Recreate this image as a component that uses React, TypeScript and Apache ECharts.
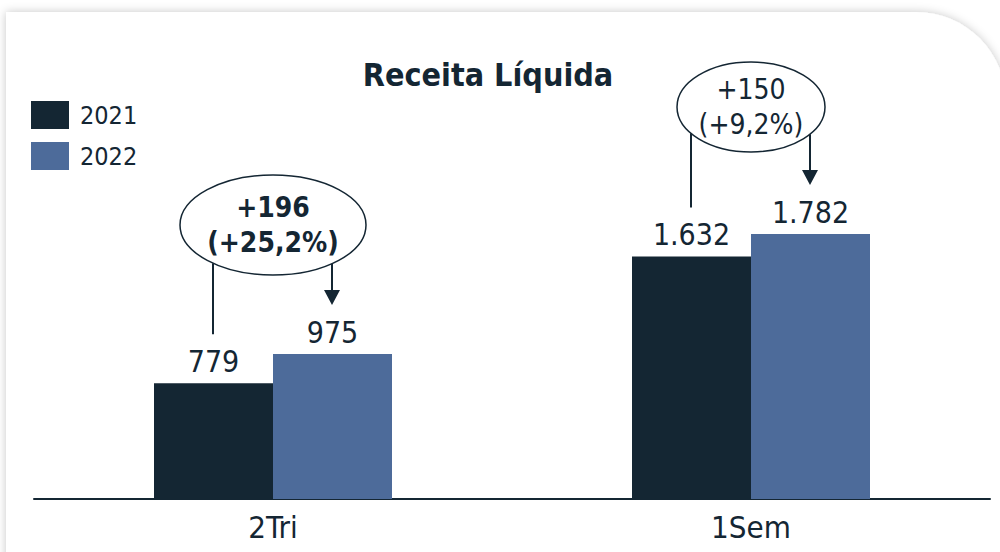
import React, { useEffect, useRef } from "react";
import * as echarts from "echarts";

const categories = ["2Tri", "1Sem"];
const seriesNames = ["2021", "2022"];
const values2021 = [779, 1632];
const values2022 = [975, 1782];
const deltaText = ["+196", "+150"];
const pctText = ["(+25,2%)", "(+9,2%)"];
const deltaBold = [true, false];
const title = "Receita Líquida";

const DARK = "#142633";
const BLUE = "#4D6B9A";
const FONT = "'DejaVu Sans Condensed', sans-serif";

const fmt = (v: number) => v.toLocaleString("de-DE");

export default function App() {
  const ref = useRef<HTMLDivElement>(null);
  useEffect(() => {
    document.body.style.margin = "0";
    const chart = echarts.init(ref.current!, null, { renderer: "svg" });
    const barWidth = 119;
    const labelOpt = {
      show: true,
      position: "top",
      distance: 7,
      color: DARK,
      fontFamily: FONT,
      fontSize: 30,
      formatter: (p: any) => fmt(p.value),
    };
    chart.setOption({
      animation: false,
      backgroundColor: "#ffffff",
      title: {
        text: title,
        left: 488,
        top: 59,
        padding: 0,
        textAlign: "center",
        textStyle: { fontFamily: FONT, fontWeight: "bold", fontSize: 32, color: DARK },
      },
      legend: {
        orient: "vertical",
        left: 31,
        top: 101,
        padding: 0,
        itemWidth: 38,
        itemHeight: 28,
        itemGap: 13,
        icon: "rect",
        data: seriesNames,
        textStyle: { fontFamily: FONT, fontSize: 25, color: DARK, padding: [0, 0, 0, 6] },
      },
      grid: { left: 34, right: 10, top: 53, bottom: 53 },
      xAxis: {
        type: "category",
        data: categories,
        axisLine: { lineStyle: { color: DARK, width: 2 } },
        axisTick: { show: false },
        axisLabel: { fontFamily: FONT, fontSize: 31, color: DARK, margin: 12 },
      },
      yAxis: { type: "value", min: 0, max: 3000, show: false, splitLine: { show: false } },
      series: [
        { name: seriesNames[0], type: "bar", data: values2021, barWidth, barGap: "0%", itemStyle: { color: DARK }, label: labelOpt },
        { name: seriesNames[1], type: "bar", data: values2022, barWidth, barGap: "0%", itemStyle: { color: BLUE }, label: labelOpt },
      ],
    });

    const ellipses = [
      { cy: 225, rx: 93, ry: 50 },
      { cy: 107, rx: 74, ry: 45 },
    ];
    const elements: any[] = [
      {
        type: "rect",
        z: -10,
        silent: true,
        shape: { x: 6, y: 12, width: 1000, height: 600, r: [0, 90, 0, 0] },
        style: { fill: "#ffffff", shadowBlur: 10, shadowColor: "rgba(0,0,0,0.22)" },
      },
    ];
    categories.forEach((cat, i) => {
      const cx = chart.convertToPixel({ xAxisIndex: 0 }, cat) as number;
      const y1 = chart.convertToPixel({ yAxisIndex: 0 }, values2021[i]) as number;
      const y2 = chart.convertToPixel({ yAxisIndex: 0 }, values2022[i]) as number;
      const { cy, rx, ry } = ellipses[i];
      const lx = cx - 60;
      const ax = cx + 59;
      const ey = (x: number) => cy + ry * Math.sqrt(Math.max(0, 1 - ((x - cx) / rx) ** 2));
      const tip = y2 - 49;
      elements.push(
        { type: "ellipse", shape: { cx, cy, rx, ry }, style: { fill: "#fff", stroke: DARK, lineWidth: 1.5 } },
        {
          type: "text",
          style: {
            text: deltaText[i] + "\n" + pctText[i],
            x: cx,
            y: cy,
            align: "center",
            verticalAlign: "middle",
            fontFamily: FONT,
            fontSize: 28,
            lineHeight: 35,
            fontWeight: deltaBold[i] ? "bold" : "normal",
            fill: DARK,
          },
        },
        { type: "line", shape: { x1: lx, y1: ey(lx), x2: lx, y2: y1 - 49 }, style: { stroke: DARK, lineWidth: 2 } },
        { type: "line", shape: { x1: ax, y1: ey(ax), x2: ax, y2: tip - 14 }, style: { stroke: DARK, lineWidth: 2 } },
        { type: "polygon", shape: { points: [[ax - 8, tip - 15], [ax + 8, tip - 15], [ax, tip]] }, style: { fill: DARK } }
      );
    });
    chart.setOption({ graphic: { elements } });
    return () => chart.dispose();
  }, []);
  return <div ref={ref} style={{ width: 1000, height: 552 }} />;
}
